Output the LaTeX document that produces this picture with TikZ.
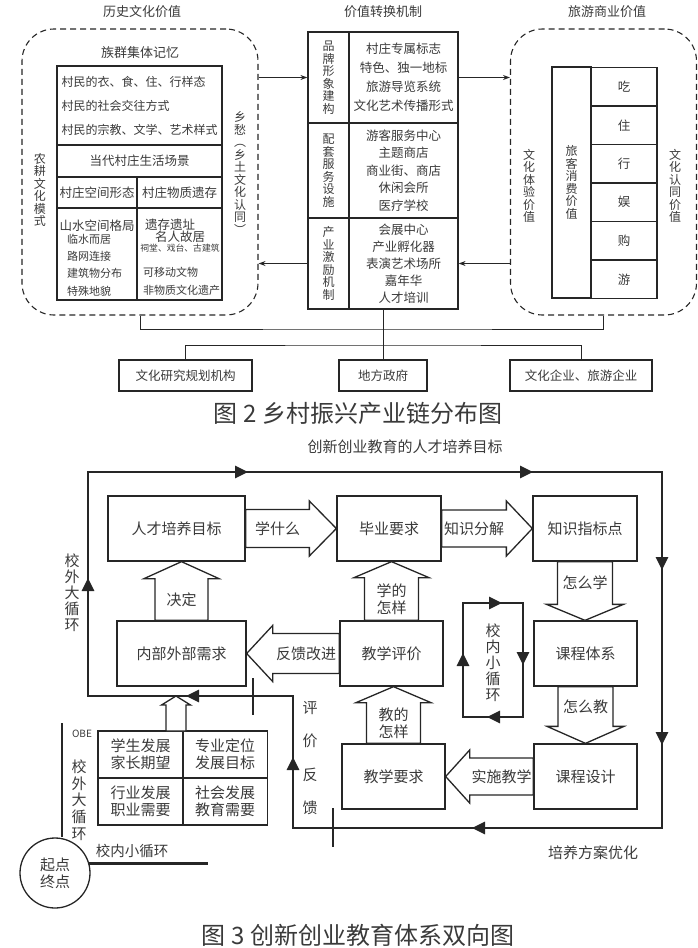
\documentclass[tikz,border=0pt]{standalone}
\usepackage{fontspec}
\setmainfont{Noto Sans CJK SC}
\usepackage{tikz}
\usetikzlibrary{arrows.meta,calc,decorations.markings}
\definecolor{ink}{HTML}{262626}
\definecolor{inkgrey}{HTML}{3A3A3A}
\newcommand{\fsz}[2]{\fontsize{#1}{#2}\selectfont}
\tikzset{
  head/.style={font=\fsz{13}{15}, text=inkgrey, inner sep=0pt},
  txt/.style={text=inkgrey, inner sep=0pt},
  vtxt/.style={align=center, text=inkgrey, inner sep=0pt, font=\fsz{12}{12.5}},
  cell/.style={draw=ink, line width=1.2pt, inner sep=0pt, align=center,
               text=inkgrey, font=\fsz{12.5}{15}},
  dashbox/.style={draw=ink, line width=1.1pt, dash pattern=on 6pt off 4pt,
                  rounded corners=32pt},
  flow/.style={-{Stealth[length=7pt,width=5pt]}, line width=0.9pt, draw=ink},
  link/.style={line width=0.9pt, draw=ink},
  caption/.style={font=\fsz{24}{26}, text=inkgrey, inner sep=0pt},
  box/.style={draw=ink, line width=1.3pt, minimum height=65, inner sep=0pt,
              align=center, text=inkgrey, font=\fsz{15}{17}},
  fat/.style={draw=ink, line width=1.3pt, fill=white, line join=miter},
  fatlbl/.style={align=center, text=inkgrey, inner sep=0pt, font=\fsz{15}{17}},
  cycleline/.style={draw=ink, color=ink, line width=2.6pt},
  tickmark/.style={draw=ink, line width=2.2pt},
  lbl3/.style={text=inkgrey, inner sep=0pt, font=\fsz{15}{17}},
  vtxt3/.style={align=center, text=inkgrey, inner sep=0pt, font=\fsz{15}{16}},
  obecell/.style={draw=ink, line width=1.3pt, minimum width=85, minimum height=47,
                  inner sep=0pt, align=center, text=inkgrey, font=\fsz{15}{17}},
  looptip/.tip={Triangle[length=13pt,width=12pt]},
}
% hollow block arrow: name, tail, tip, shaft half, head half, head length, label
\newcommand{\fatarrow}[7]{%
  \coordinate (#1-t) at (#2);
  \coordinate (#1-h) at (#3);
  \coordinate (#1-b) at ($(#1-h)!#6!(#1-t)$);
  \draw[fat] ($(#1-t)!#4!90:(#1-h)$) -- ($(#1-b)!#4!-90:(#1-t)$)
     -- ($(#1-b)!#5!-90:(#1-t)$) -- (#1-h) -- ($(#1-b)!#5!90:(#1-t)$)
     -- ($(#1-b)!#4!90:(#1-t)$) -- ($(#1-t)!#4!-90:(#1-h)$) -- cycle;
  \node[fatlbl] (#1) at ($(#1-t)!0.5!(#1-b)$) {#7};}

\begin{document}
\begin{tikzpicture}[x=1pt, y=-1pt]
\useasboundingbox (0,0) rectangle (697,948);

% ---------- figure 2: the three value blocks ----------------------------
\node[head] (t-hist) at (142,12) {历史文化价值};
\node[head] (t-mech) at (383,12) {价值转换机制};
\node[head] (t-tour) at (607,12) {旅游商业价值};

\node[dashbox, minimum width=236, minimum height=286] (hist) at (140,172) {};
\node[dashbox, minimum width=186, minimum height=286] (tour) at (603.5,172) {};

% left block
\node[head] (memory) at (140,53) {族群集体记忆};
\node[cell, minimum width=165, minimum height=79, align=left, font=\fsz{12}{24}]
   (mem) at (139.5,105.5)
   {村民的衣、食、住、行样态\\村民的社会交往方式\\村民的宗教、文学、艺术样式};
\node[cell, minimum width=165, minimum height=32] (scene) at (139.5,161) {当代村庄生活场景};
\node[cell, minimum width=80, minimum height=31] (form-h) at (97,192.5) {村庄空间形态};
\node[cell, minimum width=85, minimum height=31] (relic-h) at (179.5,192.5) {村庄物质遗存};
\node[cell, minimum width=80, minimum height=92] (form) at (97,254) {};
\node[cell, minimum width=85, minimum height=92] (relic) at (179.5,254) {};
\node[txt, font=\fsz{12.5}{14}] (form-t) at (97,226) {山水空间格局};
\node[txt, font=\fsz{11}{17.3}, align=left, anchor=west] (form-l) at (67,265)
   {临水而居\\路网连接\\建筑物分布\\特殊地貌};
\node[txt, font=\fsz{12.5}{14}] (relic-a) at (170,225) {遗存遗址};
\node[txt, font=\fsz{12.5}{14}] (relic-b) at (180,237) {名人故居};
\node[txt, font=\fsz{8.8}{10}] (relic-c) at (180,248) {祠堂、戏台、古建筑};
\node[txt, font=\fsz{11}{18}, align=left, anchor=west] (relic-d) at (143,281)
   {可移动文物\\非物质文化遗产};
\node[vtxt] (farm) at (40,190) {农\\耕\\文\\化\\模\\式};
\node[vtxt] (nostalgia) at (240,173) {乡\\愁\\︵\\乡\\土\\文\\化\\认\\同\\︶};

% middle block
\node[cell, minimum width=41, minimum height=91, font=\fsz{12}{12.5}] (brand) at (328.5,77.5)
   {品\\牌\\形\\象\\建\\构};
\node[cell, minimum width=109, minimum height=91, font=\fsz{12.5}{19}] (brand-r) at (403.5,77.5)
   {村庄专属标志\\特色、独一地标\\旅游导览系统\\文化艺术传播形式};
\node[cell, minimum width=41, minimum height=95, font=\fsz{12}{12.5}] (serv) at (328.5,170.5)
   {配\\套\\服\\务\\设\\施};
\node[cell, minimum width=109, minimum height=95, font=\fsz{12.5}{17.5}] (serv-r) at (403.5,170.5)
   {游客服务中心\\主题商店\\商业街、商店\\休闲会所\\医疗学校};
\node[cell, minimum width=41, minimum height=91, font=\fsz{12}{12.5}] (incent) at (328.5,263.5)
   {产\\业\\激\\励\\机\\制};
\node[cell, minimum width=109, minimum height=91, font=\fsz{12.5}{17}] (incent-r) at (403.5,263.5)
   {会展中心\\产业孵化器\\表演艺术场所\\嘉年华\\人才培训};

% right block
\node[cell, minimum width=39, minimum height=231, font=\fsz{12}{12.5}] (spend) at (571.5,182.5)
   {旅\\客\\消\\费\\价\\值};
\foreach \food [count=\i] in {吃,住,行,娱,购,游}
  \node[cell, minimum width=66, minimum height=38.5] (item\i) at (624,48.25+38.5*\i) {\food};
\node[vtxt] (exper) at (529,186) {文\\化\\体\\验\\价\\值};
\node[vtxt] (ident) at (675,186) {文\\化\\认\\同\\价\\值};

\draw[flow] (hist.east |- brand.west) -- (brand.west);
\draw[flow] (incent.west) -- (incent.west -| hist.east);
\draw[flow] (brand-r.east) -- (brand-r.east -| tour.west);
\draw[flow] (incent-r.east -| tour.west) -- (incent-r.east);

% ---------- figure 2: the actors --------------------------------------
\node[cell, minimum width=133, minimum height=31] (inst) at (185.5,375.5) {文化研究规划机构};
\node[cell, minimum width=88, minimum height=31] (gov) at (383,375.5) {地方政府};
\node[cell, minimum width=142, minimum height=31] (firm) at (581,375.5) {文化企业、旅游企业};
\coordinate (bus) at (383,329);
\coordinate (fork) at (383,345);
\draw[link] (hist.south) |- (bus) -| (tour.south);
\draw[link] (fork |- incent-r.south) -- (fork);
\draw[link] (inst.north) |- (fork) -| (firm.north);
\draw[link] (fork) -- (gov.north);
\node[caption] (cap2) at (358,413) {图 2 乡村振兴产业链分布图};

% ---------- figure 3: the eight boxes ---------------------------------
\node[lbl3] (aim) at (405,447) {创新创业教育的人才培养目标};
\node[box, minimum width=137] (goal) at (176.5,528.5) {人才培养目标};
\node[box, minimum width=104] (grad) at (389,528.5) {毕业要求};
\node[box, minimum width=104] (point) at (585,528.5) {知识指标点};
\node[box, minimum width=129] (need) at (181.5,653.5) {内部外部需求};
\node[box, minimum width=103] (eval) at (391.5,653.5) {教学评价};
\node[box, minimum width=103] (sys) at (585.5,653.5) {课程体系};
\node[box, minimum width=103] (req) at (393.5,776.5) {教学要求};
\node[box, minimum width=103] (design) at (585.5,776.5) {课程设计};

\fatarrow{learn}{goal.east}{grad.west}{19pt}{27.5pt}{27pt}{学什么}
\fatarrow{split}{grad.east}{point.west}{18.5pt}{27.5pt}{26pt}{知识分解}
\fatarrow{decide}{need.north}{need.north |- goal.south}{26.5pt}{37.5pt}{17pt}{决定}
\fatarrow{improve}{eval.west}{need.east}{20pt}{28pt}{26pt}{反馈改进}
\fatarrow{howlearn}{eval.north}{eval.north |- grad.south}{27pt}{37.5pt}{16pt}{学的\\怎样}
\fatarrow{howteach}{req.north}{req.north |- eval.south}{27pt}{37.5pt}{16pt}{教的\\怎样}
\fatarrow{waylearn}{point.south}{point.south |- sys.north}{27.5pt}{38.5pt}{16pt}{怎么学}
\fatarrow{wayteach}{sys.south}{sys.south |- design.north}{27.5pt}{38.5pt}{17pt}{怎么教}
\fatarrow{teach}{design.west}{req.east}{18.5pt}{26.5pt}{24pt}{实施教学}

% ---------- figure 3: OBE corner --------------------------------------
\node[obecell] (c-stu) at (140.5,754.5) {学生发展\\家长期望};
\node[obecell] (c-pro) at (225,754.5) {专业定位\\发展目标};
\node[obecell] (c-ind) at (140.5,801.5) {行业发展\\职业需要};
\node[obecell] (c-soc) at (225,801.5) {社会发展\\教育需要};
\coordinate (obe-tail) at (176,731);
\coordinate (obe-tip) at (176,696);
\fatarrow{obe-up}{obe-tail}{obe-tip}{10pt}{14.5pt}{9pt}{}
\node[txt, font=\fsz{10}{11}] (obe) at (82,734) {OBE};
\node[vtxt3, font=\fsz{15}{16.7}] (big2) at (79,800) {校\\外\\大\\循\\环};
\node[circle, draw=ink, line width=1.3pt, minimum size=70, inner sep=0pt, align=center,
      text=inkgrey, font=\fsz{15}{17}] (start) at (55,873) {起点\\终点};
\coordinate (obe-top) at (62,723);
\coordinate (small-end) at (208,864);
\draw[cycleline] (obe-top) -- (obe-top |- start.north);
\draw[cycleline] (start.15) -- (start.15 -| small-end);
\node[lbl3, font=\fsz{14.5}{16}] (inner2) at (132,851) {校内小循环};

% ---------- figure 3: the two loops -----------------------------------
\coordinate (o-bl) at (88,696);
\coordinate (o-tl) at (88,472);
\coordinate (o-tr) at (662,472);
\coordinate (o-br) at (662,828);
\coordinate (o-bm) at (293,828);
\coordinate (o-ml) at (293,696);
\draw[cycleline, postaction={decorate}, decoration={markings,
   mark=at position 118pt with {\arrow{looptip}},
   mark=at position 384pt with {\arrow{looptip}},
   mark=at position 669pt with {\arrow{looptip}},
   mark=at position 896pt with {\arrow{looptip}},
   mark=at position 1071pt with {\arrow{looptip}},
   mark=at position 1344pt with {\arrow{looptip}},
   mark=at position 1594pt with {\arrow{looptip}},
   mark=at position 1762pt with {\arrow{looptip}}}]
   (o-bl) -- (o-tl) -- (o-tr) -- (o-br) -- (o-bm) -- (o-ml) -- cycle;
\draw[tickmark] (253,678) -- (253,715);
\draw[tickmark] (333,808) -- (333,847);

\coordinate (s-bl) at (463,717);
\coordinate (s-tl) at (463,603);
\coordinate (s-tr) at (523,603);
\coordinate (s-br) at (523,717);
\draw[cycleline, postaction={decorate}, decoration={markings,
   mark=at position 64pt with {\arrow{looptip}},
   mark=at position 153pt with {\arrow{looptip}},
   mark=at position 236pt with {\arrow{looptip}},
   mark=at position 324pt with {\arrow{looptip}}}]
   (s-bl) -- (s-tl) -- (s-tr) -- (s-br) -- cycle;

\node[vtxt3] (big1) at (72,593) {校\\外\\大\\循\\环};
\node[vtxt3, font=\fsz{15}{33.5}] (feedback) at (310,758) {评\\价\\反\\馈};
\node[vtxt3] (small1) at (493,663) {校\\内\\小\\循\\环};
\node[lbl3] (optim) at (593,853) {培养方案优化};
\node[caption] (cap3) at (358,935) {图 3 创新创业教育体系双向图};
\end{tikzpicture}
\end{document}
